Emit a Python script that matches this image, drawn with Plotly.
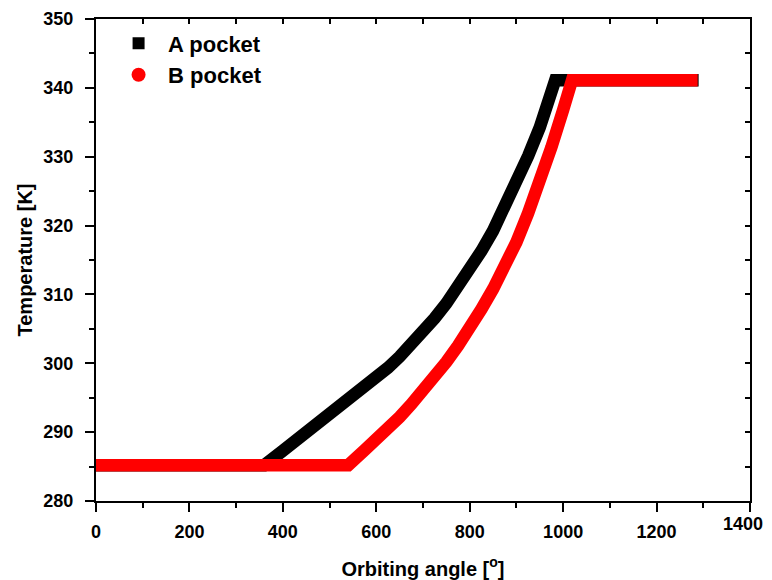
import plotly.graph_objects as go

# Data
angle_a = [0, 360, 400, 425, 450, 475, 500, 525, 550, 575, 600, 625, 650, 675, 700,
           725, 750, 775, 800, 825, 850, 875, 900, 925, 950, 967, 983, 1290]
temp_a = [285.2, 285.2, 287.3, 288.6, 289.9, 291.15, 292.4, 293.7, 295.0, 296.35,
          297.8, 299.35, 300.95, 302.7, 304.55, 306.55, 308.7, 311.05, 313.5, 316.3,
          319.25, 322.6, 326.1, 330.1, 334.25, 337.7, 341.1, 341.1]

angle_b = [0, 540, 575, 600, 625, 650, 675, 700, 725, 750, 775, 800, 825, 850, 875,
           900, 925, 950, 975, 1000, 1019, 1288]
temp_b = [285.2, 285.2, 287.4, 288.9, 290.5, 292.2, 294.05, 296.0, 298.05, 300.2,
          302.55, 305.0, 307.85, 310.8, 314.1, 317.6, 321.8, 326.3, 331.4, 336.8,
          341.1, 341.1]

series_names = ["A pocket", "B pocket"]
x_ticks = [0, 200, 400, 600, 800, 1000, 1200, 1400]
y_ticks = [280, 290, 300, 310, 320, 330, 340, 350]

FONT = "Liberation Sans, Arial, sans-serif"

fig = go.Figure()
fig.add_trace(go.Scatter(x=angle_a, y=temp_a, mode="lines",
                         line=dict(color="black", width=12.5),
                         showlegend=False, hoverinfo="skip"))
fig.add_trace(go.Scatter(x=angle_b, y=temp_b, mode="lines",
                         line=dict(color="#ff0000", width=12.5),
                         showlegend=False, hoverinfo="skip"))
# legend entries (markers only)
fig.add_trace(go.Scatter(x=[None], y=[None], mode="markers", name=series_names[0],
                         marker=dict(symbol="square", color="black", size=12)))
fig.add_trace(go.Scatter(x=[None], y=[None], mode="markers", name=series_names[1],
                         marker=dict(symbol="circle", color="#ff0000", size=14)))
# dummy trace to activate mirrored tick axes
fig.add_trace(go.Scatter(x=[None], y=[None], xaxis="x2", yaxis="y2",
                         showlegend=False, hoverinfo="skip"))

tickfont = dict(family=FONT, size=18, color="black", weight="bold")

# last x tick label is drawn as an annotation nudged left so it is not cut at the page edge
x_ticktext = [str(v) for v in x_ticks]
x_ticktext[-1] = ""

fig.add_annotation(x=x_ticks[-1], y=0, xref="x", yref="paper", yanchor="top",
                   text="<b>%d</b>" % x_ticks[-1], showarrow=False, xshift=-7, yshift=-11,
                   font=dict(family=FONT, size=18, color="black"))

# page body has an 8px margin, so the figure is sized/offset to compensate
fig.update_layout(
    width=764, height=572,
    margin=dict(l=88, r=22, t=11, b=79, autoexpand=False),
    paper_bgcolor="white", plot_bgcolor="white",
    showlegend=True,
    legend=dict(x=0.02, y=0.993, xanchor="left", yanchor="top",
                font=dict(family=FONT, size=22, color="black", weight="bold"),
                bgcolor="rgba(0,0,0,0)", itemwidth=49, tracegroupgap=0),
    xaxis=dict(range=[0, 1400], tickvals=x_ticks, ticktext=x_ticktext,
               ticks="outside", ticklen=9, tickwidth=2, tickcolor="black",
               minor=dict(ticks="outside", ticklen=5, tickwidth=2, tickcolor="black", dtick=100),
               showline=True, linewidth=2, linecolor="black", mirror=True,
               showgrid=False, zeroline=False, tickfont=tickfont,
               ticklabelstandoff=4, automargin=False,
               title=dict(text="<b>Orbiting angle [<sup>o</sup>]</b>", standoff=21,
                          font=dict(family=FONT, size=20, color="black"))),
    yaxis=dict(range=[280, 350], tickvals=y_ticks, ticktext=[str(v) for v in y_ticks],
               ticks="outside", ticklen=9, tickwidth=2, tickcolor="black",
               minor=dict(ticks="outside", ticklen=5, tickwidth=2, tickcolor="black", dtick=5),
               showline=True, linewidth=2, linecolor="black", mirror=True,
               showgrid=False, zeroline=False, tickfont=tickfont,
               ticklabelstandoff=8, automargin=False,
               title=dict(text="<b>Temperature [K]</b>", standoff=5,
                          font=dict(family=FONT, size=20, color="black"))),
    xaxis2=dict(range=[0, 1400], overlaying="x", side="top", anchor="y",
                dtick=100, tick0=0, ticks="inside", ticklen=5, tickwidth=2,
                tickcolor="black", showticklabels=False, showline=False,
                showgrid=False, zeroline=False, automargin=False),
    yaxis2=dict(range=[280, 350], overlaying="y", side="right", anchor="x",
                dtick=5, tick0=280, ticks="inside", ticklen=5, tickwidth=2,
                tickcolor="black", showticklabels=False, showline=False,
                showgrid=False, zeroline=False, automargin=False),
)

fig.write_html("out.html")
